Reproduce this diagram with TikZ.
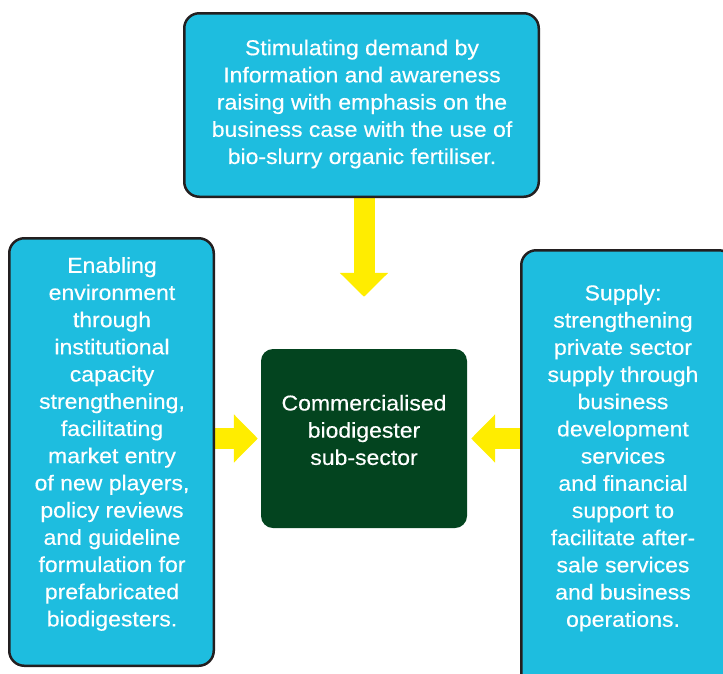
\documentclass[tikz,border=0pt]{standalone}
\usepackage{fontspec}
\setmainfont{Liberation Sans}[FakeStretch=1.07,FakeBold=0.4]
\usetikzlibrary{backgrounds}
\usetikzlibrary{arrows.meta}
\definecolor{boxcyan}{HTML}{1EBDDF}
\definecolor{sectorgreen}{HTML}{03441F}
\definecolor{arrowyellow}{HTML}{FFED00}
\definecolor{edgeblack}{HTML}{231F20}
\newcommand{\boxfont}{\fontsize{21.5}{27.2}\selectfont}
\tikzset{
  pillar/.style={draw=edgeblack, line width=2.5pt, fill=boxcyan, rounded corners=15pt},
  hub/.style={fill=sectorgreen, rounded corners=12pt},
  boxtext/.style={text=white, align=center, font=\boxfont, inner sep=0pt},
  push/.style={draw=arrowyellow, line width=21pt, -{Triangle[width=47pt,length=24pt]}}
}

\begin{document}
\begin{tikzpicture}[x=1pt,y=-1pt]
    \useasboundingbox (0,0) rectangle (723,673);
    \clip (0,0) rectangle (723,673);
    % demand part (top)
    \node[pillar, minimum width=354.5pt, minimum height=183.5pt] (demand) at (361.5,105) {};
    \node[boxtext] (demandtext) at (362,104) {Stimulating demand by\\
      Information and awareness\\
      raising with emphasis on the\\
      business case with the use of\\
      bio-slurry organic fertiliser.};
    % enabling part (left)
    \node[pillar, minimum width=204.5pt, minimum height=427.5pt] (enabling) at (111.5,452) {};
    \node[boxtext] (enablingtext) at (112,444) {Enabling\\
      environment\\
      through\\
      institutional\\
      capacity\\
      strengthening,\\
      facilitating\\
      market entry\\
      of new players,\\
      policy reviews\\
      and guideline\\
      formulation for\\
      prefabricated\\
      biodigesters.};
    % supply part (right)
    \node[pillar, minimum width=212.5pt, minimum height=438.5pt] (supply) at (627.5,469.5) {};
    \node[boxtext] (supplytext) at (623,458) {Supply:\\
      strengthening\\
      private sector\\
      supply through\\
      business\\
      development\\
      services\\
      and financial\\
      support to\\
      facilitate after-\\
      sale services\\
      and business\\
      operations.};
    % sector part (centre)
    \node[hub, minimum width=206pt, minimum height=179pt] (sector) at (364,438.5) {};
    \node[boxtext] (sectortext) at (364,430) {Commercialised\\
      biodigester\\
      sub-sector};
    \begin{scope}[on background layer]
      % yellow arrows
      \draw[push, shorten >=52pt] (sector.north |- demand.south) -- (sector.north);
      \draw[push, shorten >=3pt] (enabling.east |- sector.west) -- (sector.west);
      \draw[push, shorten >=4pt] (supply.west |- sector.east) -- (sector.east);
    \end{scope}
\end{tikzpicture}
\end{document}
